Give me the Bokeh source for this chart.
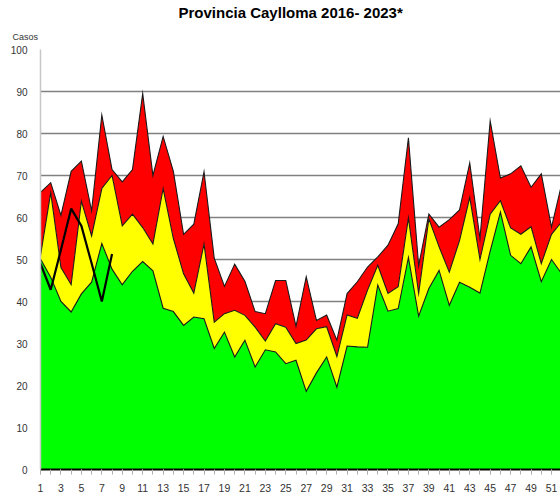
from bokeh.plotting import figure
from bokeh.models import ColumnDataSource, Range1d, FixedTicker, Title
from bokeh.embed import file_html
from bokeh.resources import INLINE

# ---- data ----
weeks = list(range(1, 53))

green_top = [50.1, 45.8, 40.0, 37.5, 41.8, 44.6, 53.8, 47.7, 44.0, 47.2,
             49.5, 47.3, 38.4, 37.6, 34.3, 36.3, 35.9, 28.8, 32.7, 26.8,
             30.8, 24.4, 28.5, 28.0, 25.2, 26.0, 18.6, 23.0, 26.8, 19.6,
             29.4, 29.2, 29.1, 43.9, 37.7, 38.3, 50.5, 36.5, 43.1, 47.4,
             39.1, 44.6, 43.4, 42.0, 52.0, 61.3, 51.0, 49.0, 53.0, 44.7,
             50.0, 46.6]

yellow_top = [50.9, 65.9, 48.1, 44.0, 63.9, 55.6, 66.9, 70.0, 58.0, 60.8,
              57.6, 53.7, 66.9, 55.0, 46.6, 42.0, 53.7, 35.1, 37.1, 37.9,
              36.7, 33.9, 30.6, 34.7, 33.9, 30.0, 30.8, 33.5, 34.0, 26.9,
              36.8, 36.0, 42.7, 48.6, 41.9, 43.5, 59.9, 41.9, 59.7, 53.0,
              47.0, 54.5, 64.8, 50.0, 60.8, 64.0, 57.5, 56.0, 57.8, 49.0,
              56.0, 59.0]

red_top = [66.0, 68.3, 60.5, 71.0, 73.4, 61.6, 84.4, 71.4, 68.5, 71.4,
           89.5, 70.0, 79.3, 71.0, 56.0, 58.4, 70.9, 50.3, 43.6, 48.9,
           44.8, 37.6, 37.1, 45.0, 45.0, 34.1, 45.9, 35.5, 36.8, 30.8,
           41.9, 44.7, 48.2, 50.6, 53.4, 58.5, 79.0, 48.5, 60.8, 57.7,
           59.5, 61.8, 73.0, 55.0, 83.0, 69.4, 70.4, 72.3, 67.2, 70.4,
           57.7, 68.0]

weeks_2023 = [1, 2, 3, 4, 5, 6, 7, 8]
cases_2023 = [49.0, 42.8, 52.3, 62.1, 58.0, 49.1, 40.0, 51.3]

x_tick_labels = [str(w) for w in range(1, 53, 2)]
title_text = "Provincia Caylloma 2016- 2023*"
y_title = "Casos"

FONT = "Liberation Sans"

src = ColumnDataSource(dict(w=weeks, g=green_top, y=yellow_top, r=red_top,
                            zero=[0] * len(weeks)))
src23 = ColumnDataSource(dict(w=weeks_2023, c=cases_2023))

p = figure(width=560, height=502, output_backend="svg", toolbar_location=None,
           x_range=Range1d(1, 51.88), y_range=Range1d(0, 100),
           min_border_left=40, min_border_right=0, min_border_top=48,
           min_border_bottom=33)
p.outline_line_color = None
p.background_fill_color = "white"
p.border_fill_color = "white"

# grid
p.xgrid.visible = False
p.ygrid.grid_line_color = "#808080"
p.ygrid.grid_line_width = 1.5
p.ygrid.ticker = FixedTicker(ticks=list(range(0, 101, 10)))

# areas (stacked bands)
p.varea(x="w", y1="y", y2="r", source=src, fill_color="#ff0000")
p.varea(x="w", y1="g", y2="y", source=src, fill_color="#ffff00")
p.varea(x="w", y1="zero", y2="g", source=src, fill_color="#00ff00")

for col in ("r", "y", "g"):
    p.line(x="w", y=col, source=src, line_color="#1a1a1a", line_width=1.1,
           line_join="miter")

# 2023 line
p.line(x="w", y="c", source=src23, line_color="black", line_width=2.2)

# axes
yax = p.yaxis[0]
yax.ticker = FixedTicker(ticks=list(range(0, 101, 10)))
yax.axis_line_color = "#c8c8c8"
yax.axis_line_width = 1.5
yax.major_tick_line_color = None
yax.minor_tick_line_color = None
yax.major_label_text_font = FONT
yax.major_label_text_font_size = "10px"
yax.major_label_text_color = "#333333"
yax.major_label_standoff = 7

xax = p.xaxis[0]
xax.ticker = FixedTicker(ticks=list(range(1, 53, 2)), minor_ticks=weeks)
xax.major_label_overrides = {w: lbl for w, lbl in zip(range(1, 53, 2), x_tick_labels)}
xax.axis_line_color = "black"
xax.axis_line_width = 2
xax.major_tick_line_color = "#b0b0b0"
xax.minor_tick_line_color = "#b0b0b0"
xax.major_tick_in = 0
xax.major_tick_out = 5
xax.minor_tick_in = 0
xax.minor_tick_out = 5
xax.major_label_text_font = FONT
xax.major_label_text_font_size = "10.5px"
xax.major_label_text_color = "#333333"
xax.major_label_standoff = 9

# texts above the frame: "Casos" nearest the frame, main title outermost
p.add_layout(Title(text=y_title, align="left", offset=-28, standoff=16,
                   text_font=FONT, text_font_size="9px",
                   text_font_style="normal", text_color="#333333"), "above")
p.add_layout(Title(text=title_text, align="left", offset=138, standoff=2,
                   text_font=FONT, text_font_size="15px",
                   text_font_style="bold", text_color="black"), "above")

open("out.html", "w").write(file_html(p, INLINE))
